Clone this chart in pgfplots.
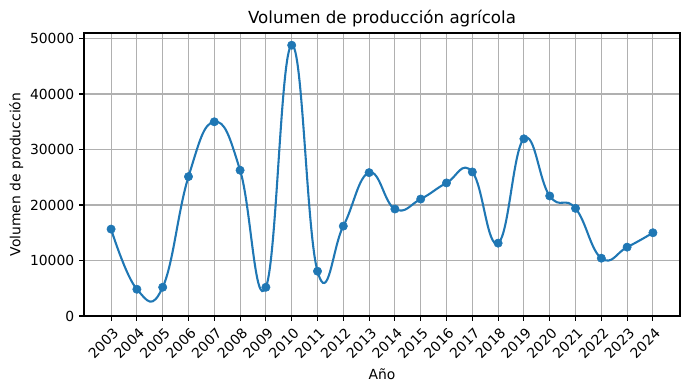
\documentclass[border=0pt]{standalone}
\usepackage{pgfplots}
\pgfplotsset{compat=1.18}
\usepackage{fontspec}
\setmainfont{DejaVu Sans}
\definecolor{c0}{HTML}{1F77B4}
\definecolor{gridc}{HTML}{B0B0B0}
\begin{document}
\begin{tikzpicture}
\useasboundingbox (-60.48pt,-53.28pt) rectangle (436.32pt,227.52pt);
\begin{axis}[
  at={(0,0)}, anchor=south west,
  scale only axis,
  width=429.12pt, height=203.76pt,
  xmin=2001.95, xmax=2025.05,
  ymin=0, ymax=51000,
  xtick={2003,...,2024},
  ytick={0,10000,20000,30000,40000,50000},
  scaled y ticks=false,
  /pgf/number format/assume math mode=true,
  /pgf/number format/.cd, 1000 sep={}, /pgfplots/.cd,
  xticklabel style={rotate=45, anchor=north east, font=\fontsize{10}{12}\selectfont, inner sep=1pt, xshift=-1.5pt, yshift=-2.5pt},
  yticklabel style={font=\fontsize{10}{12}\selectfont},
  tick align=outside,
  major tick length=3.5pt,
  tick style={black, line width=0.8pt},
  xtick pos=bottom, ytick pos=left,
  axis line style={line width=0.8pt},
  grid=major,
  major grid style={gridc, line width=0.8pt},
  title={Volumen de producción agrícola},
  title style={font=\fontsize{12}{14}\selectfont, at={(0.5,1)}, anchor=south, yshift=-5pt},
  xlabel={Año},
  ylabel={Volumen de producción},
  label style={font=\fontsize{10}{12}\selectfont},
  xlabel style={yshift=-1.5pt},
  ylabel style={yshift=-2pt},
]
\addplot[c0, line width=1.5pt, smooth, tension=0.75, no marks] coordinates {
(2003,15660) (2004,4820) (2005,5180) (2006,25120) (2007,35000) (2008,26270)
(2009,5180) (2010,48800) (2011,8070) (2012,16200) (2013,25840) (2014,19280)
(2015,21080) (2016,23980) (2017,25960) (2018,13130) (2019,31930) (2020,21630)
(2021,19400) (2022,10420) (2023,12410) (2024,15000)
};
\addplot[only marks, mark=*, mark size=3pt, mark options={fill=c0, draw=c0}] coordinates {
(2003,15660) (2004,4820) (2005,5180) (2006,25120) (2007,35000) (2008,26270)
(2009,5180) (2010,48800) (2011,8070) (2012,16200) (2013,25840) (2014,19280)
(2015,21080) (2016,23980) (2017,25960) (2018,13130) (2019,31930) (2020,21630)
(2021,19400) (2022,10420) (2023,12410) (2024,15000)
};
\end{axis}
\end{tikzpicture}
\end{document}
